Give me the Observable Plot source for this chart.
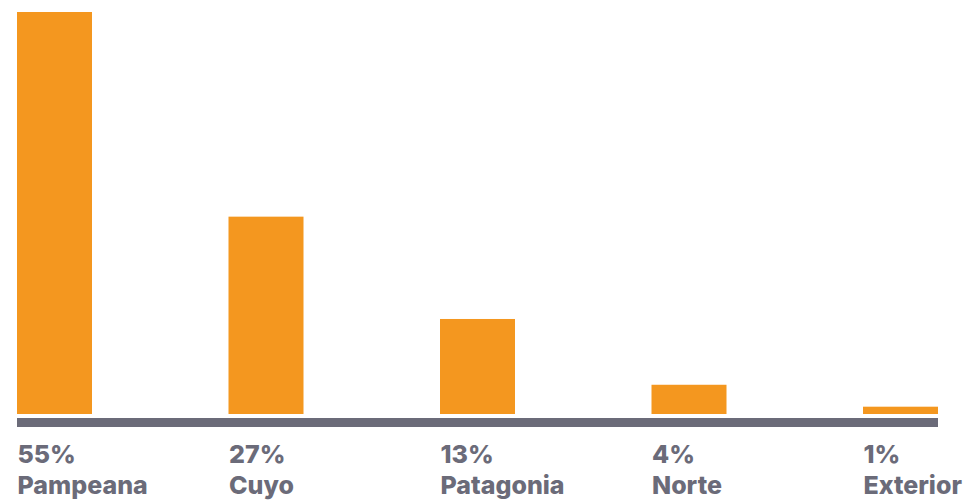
<!DOCTYPE html>
<html>
<head>
<meta charset="utf-8">
<script src="https://cdn.jsdelivr.net/npm/d3@7"></script>
<script src="https://cdn.jsdelivr.net/npm/@observablehq/plot@0.6"></script>
<style>
  html, body { margin: 0; padding: 0; background: #fff; }
  #chart svg { display: block; }
</style>
</head>
<body>
<div id="chart"></div>
<script>
const regions = ["Pampeana", "Cuyo", "Patagonia", "Norte", "Exterior"];
const shares = [55, 27, 13, 4, 1];
const shareLabels = ["55%", "27%", "13%", "4%", "1%"];

const data = regions.map((r, i) => ({region: r, value: shares[i], label: shareLabels[i]}));

const barColor = "#f4971f";
const grey = "#6b6b79";
const bw = 75;

const chart = Plot.plot({
  width: 968,
  height: 500,
  marginTop: 12,
  marginBottom: 86,
  marginLeft: 17,
  marginRight: 30,
  style: {fontFamily: "Inter, 'Noto Sans', sans-serif", background: "#fff"},
  x: {domain: regions, paddingInner: 0.6454, paddingOuter: 0, align: 0, round: false, axis: null},
  y: {domain: [0, 55], axis: null},
  marks: [
    Plot.barY(data, {x: "region", y: "value", fill: barColor}),
    Plot.ruleY([0], {stroke: grey, strokeWidth: 9, dy: 8}),
    Plot.text(data, {x: "region", y: () => 0, text: "label", textAnchor: "start", lineAnchor: "bottom", dx: -bw / 2, dy: 48, fill: grey, fontSize: 25, fontWeight: 800}),
    Plot.text(data, {x: "region", y: () => 0, text: "region", textAnchor: "start", lineAnchor: "bottom", dx: -bw / 2, dy: 79, fill: grey, fontSize: 25, fontWeight: 800})
  ]
});
document.getElementById("chart").appendChild(chart);
</script>
</body>
</html>
